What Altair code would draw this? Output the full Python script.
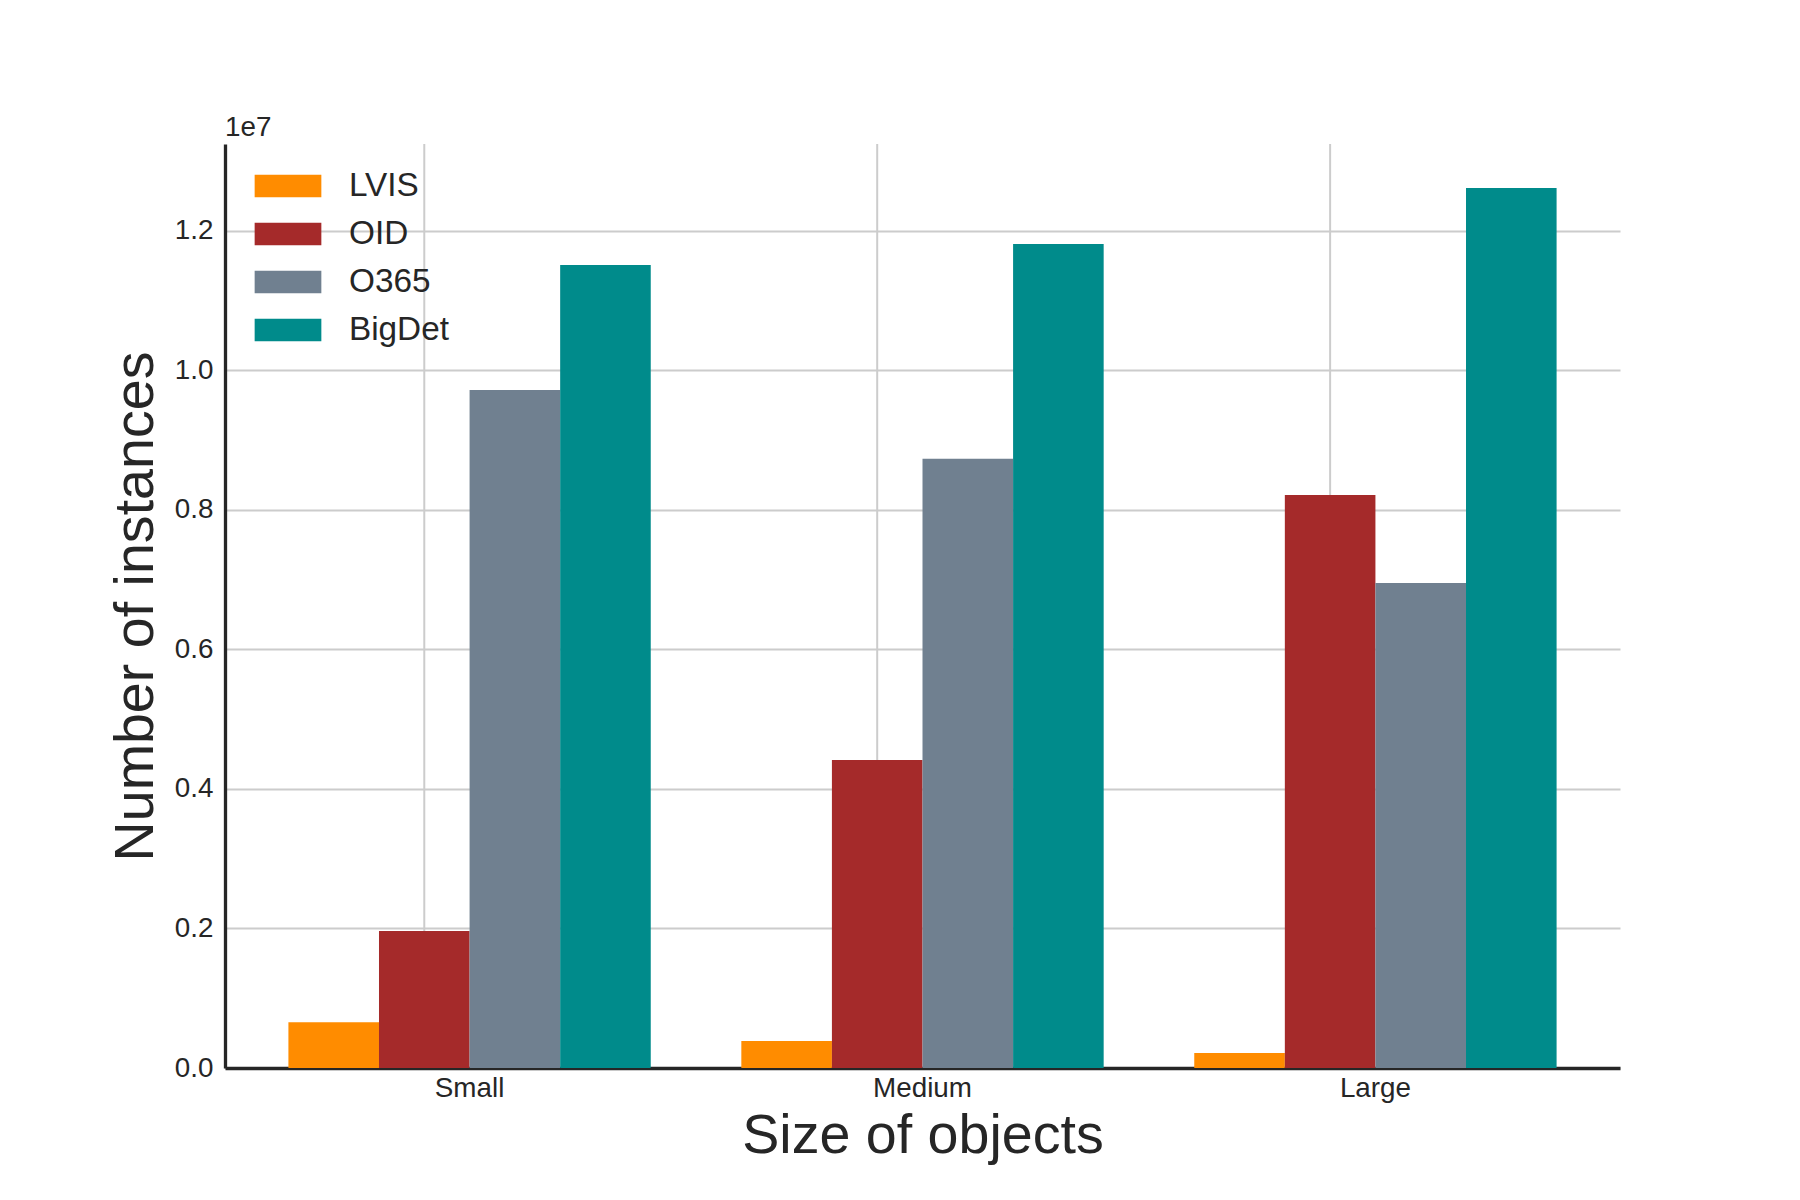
import altair as alt
import pandas as pd

sizes = ["Small", "Medium", "Large"]
datasets = ["LVIS", "OID", "O365", "BigDet"]
colors = ["#ff8c00", "#a52a2a", "#708090", "#008b8b"]

lvis = [655000, 387000, 215000]
oid = [1963000, 4414000, 8212000]
o365 = [9717000, 8730000, 6950000]
bigdet = [11508000, 11810000, 12612000]

y_ticks = [0, 2000000, 4000000, 6000000, 8000000, 10000000, 12000000]

series = {"LVIS": lvis, "OID": oid, "O365": o365, "BigDet": bigdet}
rows = []
for name in datasets:
    for s, v in zip(sizes, series[name]):
        rows.append({"Size": s, "Dataset": name, "Count": v})
df = pd.DataFrame(rows)
grid_df = pd.DataFrame({"Size": sizes})

ymax = max(max(v) for v in series.values()) * 1.05

FONT = "Arial, Liberation Sans, sans-serif"
TXT = "#262626"

x_scale = alt.Scale(domain=sizes, paddingInner=0.2, paddingOuter=0.14)
x_axis = alt.Axis(title="Size of objects", labelAngle=0, labelAlign="center",
                  labelBaseline="top", grid=False,
                  ticks=False, labelPadding=6, titlePadding=7,
                  domainColor=TXT, domainWidth=3.3)

bars = alt.Chart(df).mark_bar(strokeWidth=0).encode(
    x=alt.X("Size:N", scale=x_scale, sort=sizes, axis=x_axis),
    xOffset=alt.XOffset("Dataset:N", sort=datasets,
                        scale=alt.Scale(domain=datasets, paddingInner=0, paddingOuter=0)),
    y=alt.Y("Count:Q", scale=alt.Scale(domain=[0, ymax], nice=False, zero=True),
            axis=alt.Axis(title="Number of instances", values=y_ticks,
                          labelExpr="format(datum.value / 1e7, '.1f')",
                          grid=True, gridColor="#cccccc", gridWidth=2,
                          ticks=False, labelPadding=12, titlePadding=10,
                          domainColor=TXT, domainWidth=3.3)),
    color=alt.Color("Dataset:N", sort=datasets,
                    scale=alt.Scale(domain=datasets, range=colors),
                    legend=alt.Legend(title=None, orient="none", legendX=40, legendY=19,
                                      symbolType="M-1.45,-0.49H1.45V0.49H-1.45Z",
                                      symbolSize=2116, symbolStrokeWidth=0,
                                      symbolOpacity=1,
                                      labelFontSize=33.3, labelFont=FONT, labelColor=TXT,
                                      labelOffset=38, rowPadding=8, padding=0,
                                      labelBaseline="middle")),
)

vgrid = alt.Chart(grid_df).mark_rule(color="#cccccc", strokeWidth=2, xOffset=-45.3).encode(
    x=alt.X("Size:N", scale=x_scale, sort=sizes, axis=x_axis)
)

chart = alt.layer(vgrid, bars).properties(
    width=1395, height=924,
    padding={"left": 217, "top": 136, "right": 172, "bottom": 124},
    autosize=alt.AutoSizeParams(type="none"),
    background="white",
    title=alt.TitleParams(text="1e7", anchor="start", frame="group", fontSize=27.8,
                          font=FONT, color=TXT, fontWeight="normal",
                          baseline="alphabetic", offset=8, dy=29),
).configure_view(stroke=None).configure_axis(
    labelFont=FONT, labelFontSize=27.8, labelColor=TXT,
    titleFont=FONT, titleFontSize=55.6, titleColor=TXT, titleFontWeight="normal",
)

chart.save("out.html", embed_options={"renderer": "svg", "actions": False})
